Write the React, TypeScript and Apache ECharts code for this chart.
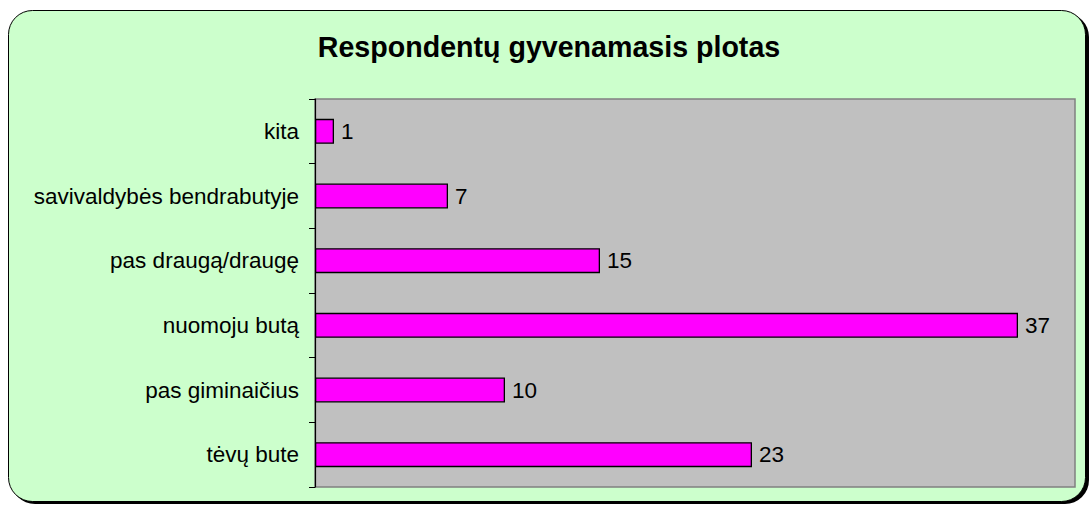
import React, { useEffect, useRef } from "react";
import * as echarts from "echarts";

const titleText = "Respondentų gyvenamasis plotas";
const categories = [
  "tėvų bute",
  "pas giminaičius",
  "nuomoju butą",
  "pas draugą/draugę",
  "savivaldybės bendrabutyje",
  "kita",
];
const values = [23, 10, 37, 15, 7, 1];
const xMin = 0;
const xMax = 40;

const FONT = "'Liberation Sans', Arial, sans-serif";

export default function App() {
  const ref = useRef<HTMLDivElement>(null);
  useEffect(() => {
    if (!ref.current) return;
    const chart = echarts.init(ref.current, null, { renderer: "svg" });
    chart.setOption({
      animation: false,
      backgroundColor: "#ffffff",
      graphic: [
        {
          type: "rect",
          z: -10,
          silent: true,
          shape: { x: 11, y: 13, width: 1078, height: 491, r: 24 },
          style: { fill: "#000000" },
        },
        {
          type: "rect",
          z: -9,
          silent: true,
          shape: { x: 8.5, y: 10.5, width: 1077, height: 491, r: 24 },
          style: { fill: "#CCFFCC", stroke: "#000000", lineWidth: 1 },
        },
        {
          type: "text",
          x: 549,
          y: 47,
          style: {
            text: titleText,
            fill: "#000000",
            font: `bold 28.6px ${FONT}`,
            textAlign: "center",
            textVerticalAlign: "middle",
          },
        },
      ],
      grid: {
        left: 315,
        top: 99,
        width: 760,
        height: 388,
        show: true,
        backgroundColor: "#C0C0C0",
        borderColor: "#808080",
        borderWidth: 1.5,
      },
      xAxis: {
        type: "value",
        min: xMin,
        max: xMax,
        show: false,
        splitLine: { show: false },
      },
      yAxis: {
        type: "category",
        data: categories,
        axisLine: { show: true, lineStyle: { color: "#000000", width: 1.2 } },
        axisTick: { show: true, length: 6, lineStyle: { color: "#000000" } },
        axisLabel: {
          color: "#000000",
          fontSize: 22.5,
          fontFamily: FONT,
          margin: 16,
        },
      },
      series: [
        {
          type: "bar",
          data: values,
          barWidth: 25,
          itemStyle: { color: "#FF00FF", borderColor: "#000000", borderWidth: 1.3 },
          label: {
            show: true,
            position: "right",
            distance: 7,
            color: "#000000",
            fontSize: 22.5,
            fontFamily: FONT,
          },
        },
      ],
    });
    return () => chart.dispose();
  }, []);
  return (
    <div
      ref={ref}
      style={{ position: "absolute", left: 0, top: 0, width: 1091, height: 506 }}
    />
  );
}
